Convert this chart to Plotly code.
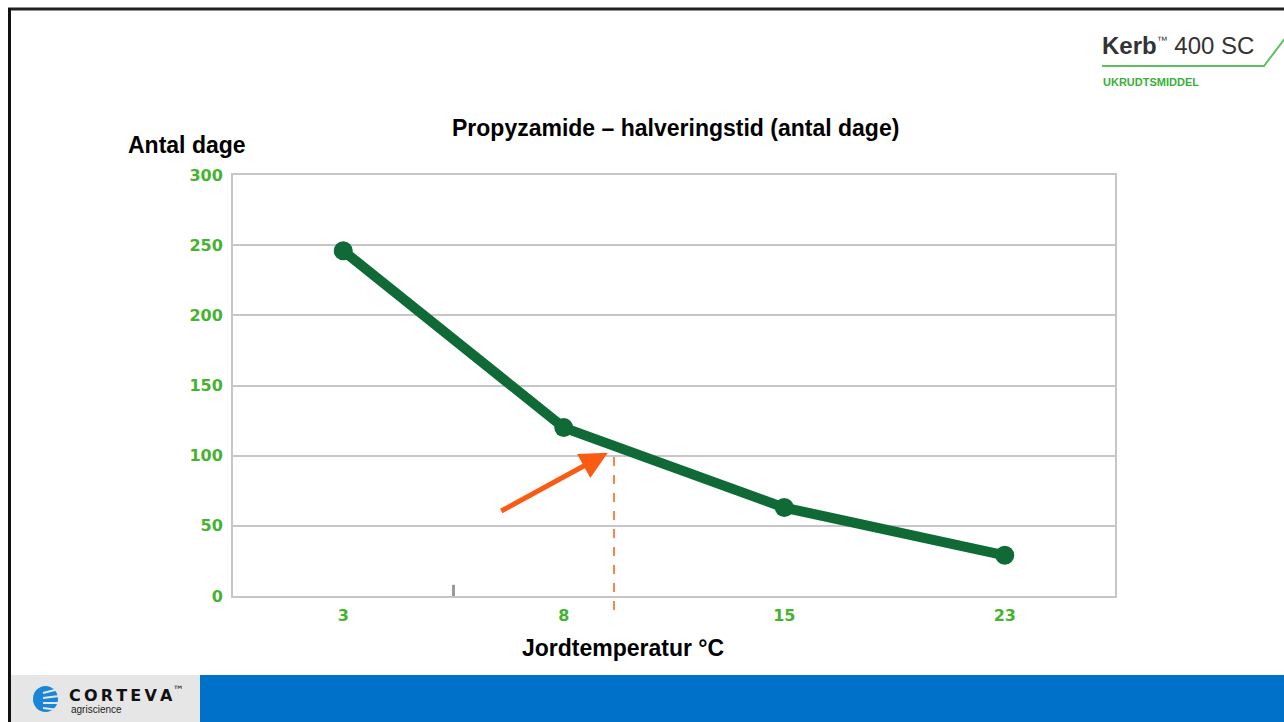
import plotly.graph_objects as go

# Data
temps = ["3", "8", "15", "23"]
days = [246, 120, 63, 29]
y_ticks = [0, 50, 100, 150, 200, 250, 300]

title_text = "Propyzamide – halveringstid (antal dage)"
y_label = "Antal dage"
x_label = "Jordtemperatur °C"

GREEN_LINE = "#0f6a36"
GREEN_TICK = "#45b330"
ORANGE = "#fa5a14"
GRID = "#c6c6c6"

W, H = 1284, 722
PL, PR, PT, PB = 233, 1115, 175, 596  # plot area in screen pixels
PW, PH = PR - PL, PB - PT


def px(x):
    return (x - PL) / PW


def py(y):
    return (PB - y) / PH


fig = go.Figure()
fig.add_trace(go.Scatter(
    x=temps, y=days, mode="lines+markers",
    line=dict(color=GREEN_LINE, width=10),
    marker=dict(color=GREEN_LINE, size=19),
    hoverinfo="skip", showlegend=False,
))

TICKFONT = dict(family="DejaVu Sans", size=16, color=GREEN_TICK, weight="bold")

fig.update_layout(
    width=W, height=H,
    margin=dict(l=PL, r=W - PR, t=PT, b=H - PB),
    paper_bgcolor="white", plot_bgcolor="white",
    xaxis=dict(
        type="category", range=[-0.5, 3.5],
        showgrid=False, zeroline=False,
        showline=True, linecolor=GRID, linewidth=2, mirror=True,
        ticks="", tickfont=TICKFONT, ticklabelstandoff=4,
    ),
    yaxis=dict(
        range=[0, 300], tickvals=y_ticks,
        showgrid=True, gridcolor=GRID, gridwidth=2, zeroline=False,
        showline=True, linecolor=GRID, linewidth=2, mirror=True,
        ticks="", tickfont=TICKFONT, ticklabelstandoff=5,
    ),
    font=dict(family="Liberation Sans"),
)

# Small tick on the x axis between the first two categories
fig.add_shape(type="line", xref="x", yref="y", x0=0.5, x1=0.5, y0=0, y1=8,
              line=dict(color="#999999", width=3))

# Orange dashed marker line and arrow
fig.add_shape(type="line", xref="x", yref="paper", x0=1.228, x1=1.228,
              y0=py(610), y1=100 / 300,
              line=dict(color=ORANGE, width=1.5, dash="dash"))
fig.add_annotation(x=1.20, y=102, ax=0.71, ay=60, xref="x", yref="y",
                   axref="x", ayref="y", text="", showarrow=True,
                   arrowhead=2, arrowsize=1.1, arrowwidth=5, arrowcolor=ORANGE,
                   standoff=0, startstandoff=0)

# Texts
LABELFONT = dict(family="Liberation Sans", size=23, color="black")
fig.add_annotation(text=f"<b>{title_text}</b>", xref="paper", yref="paper",
                   x=px(675), y=py(128), showarrow=False, font=LABELFONT,
                   xanchor="center", yanchor="middle")
fig.add_annotation(text=f"<b>{y_label}</b>", xref="paper", yref="paper",
                   x=px(187), y=py(145), showarrow=False, font=LABELFONT,
                   xanchor="center", yanchor="middle")
fig.add_annotation(text=f"<b>{x_label}</b>", xref="paper", yref="paper",
                   x=px(623), y=py(648), showarrow=False, font=LABELFONT,
                   xanchor="center", yanchor="middle")

# Bottom bar
fig.add_shape(type="rect", xref="paper", yref="paper",
              x0=px(10), x1=px(200), y0=py(723), y1=py(675),
              fillcolor="#e6e6e6", line=dict(width=0), layer="below")
fig.add_shape(type="rect", xref="paper", yref="paper",
              x0=px(200), x1=px(1285), y0=py(723), y1=py(675),
              fillcolor="#0071c9", line=dict(width=0), layer="below")

# Slide frame
fig.add_shape(type="line", xref="paper", yref="paper",
              x0=px(8), x1=px(1285), y0=py(9), y1=py(9),
              line=dict(color="#222222", width=3), layer="above")
fig.add_shape(type="line", xref="paper", yref="paper",
              x0=px(9.5), x1=px(9.5), y0=py(8), y1=py(723),
              line=dict(color="#111111", width=3), layer="above")

# Corteva logo (icon approximated)
fig.add_shape(type="circle", xref="paper", yref="paper",
              x0=px(33), x1=px(58), y0=py(712), y1=py(686),
              fillcolor="#1a86d8", line=dict(width=0))
for i, yy in enumerate([692, 697, 702, 707]):
    fig.add_shape(type="line", xref="paper", yref="paper",
                  x0=px(43), x1=px(59), y0=py(yy + 1), y1=py(yy - 3 + 2 * i),
                  line=dict(color="#e6e6e6", width=2))
corteva = "\u2009".join("CORTEVA")
fig.add_annotation(text=f"<b>{corteva}</b><sup>™</sup>", xref="paper", yref="paper",
                   x=px(67), y=py(694), showarrow=False, xanchor="left", yanchor="middle",
                   font=dict(family="DejaVu Sans", size=16, color="#111111"))
fig.add_annotation(text="agriscience", xref="paper", yref="paper",
                   x=px(69), y=py(709), showarrow=False, xanchor="left", yanchor="middle",
                   font=dict(family="Liberation Sans", size=10, color="#222222"))

# Kerb logo
fig.add_annotation(text="<b>Kerb</b><sup><span style='font-size:11px'>™</span></sup> 400 SC",
                   xref="paper", yref="paper",
                   x=px(1100), y=py(45), showarrow=False, xanchor="left", yanchor="middle",
                   font=dict(family="Liberation Sans", size=24, color="#333333"))
fig.add_shape(type="path", xref="paper", yref="paper",
              path=f"M {px(1102)},{py(66)} L {px(1264)},{py(66)} L {px(1286)},{py(37)}",
              line=dict(color="#5cc060", width=2))
fig.add_annotation(text="<b>UKRUDTSMIDDEL</b>", xref="paper", yref="paper",
                   x=px(1101), y=py(82), showarrow=False, xanchor="left", yanchor="middle",
                   font=dict(family="Liberation Sans", size=11, color="#3aae3a"))

fig.write_html(
    "out.html",
    config={"displayModeBar": False},
    post_script="document.body.style.margin='0';document.body.style.overflow='hidden';",
)
